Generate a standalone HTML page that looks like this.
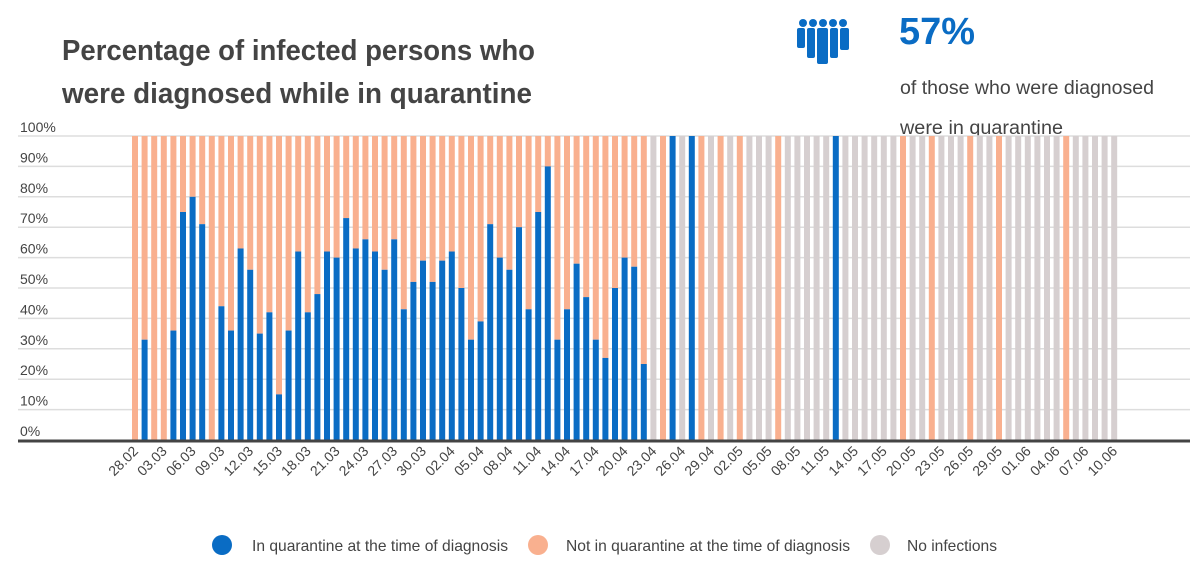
<!DOCTYPE html>
<html><head><meta charset="utf-8"><style>
body{margin:0;background:#fff;}
svg{display:block;font-family:"Liberation Sans Narrow","Liberation Sans",sans-serif;}
</style></head><body>
<svg id="chart" width="1200" height="572" viewBox="0 0 1200 572" xmlns="http://www.w3.org/2000/svg">
<text x="62" y="60" font-size="29" font-weight="bold" fill="#444" textLength="473" lengthAdjust="spacingAndGlyphs">Percentage of infected persons who</text>
<text x="62" y="103" font-size="29" font-weight="bold" fill="#444" textLength="470" lengthAdjust="spacingAndGlyphs">were diagnosed while in quarantine</text>
<g fill="#0a6cc4">
<circle cx="803" cy="23" r="4"/><circle cx="813" cy="23" r="4"/><circle cx="823" cy="23" r="4"/><circle cx="833" cy="23" r="4"/><circle cx="843" cy="23" r="4"/>
<rect x="797" y="28" width="8" height="20" rx="2"/><rect x="807" y="28" width="8" height="30" rx="2"/><rect x="817" y="28" width="11" height="36" rx="2"/><rect x="830" y="28" width="8" height="30" rx="2"/><rect x="840" y="28" width="9" height="22" rx="2"/>
</g>
<text x="899" y="44" font-size="38" font-weight="bold" fill="#0a6cc4" textLength="76" lengthAdjust="spacingAndGlyphs">57%</text>
<text x="900" y="94" font-size="19" fill="#444" textLength="254" lengthAdjust="spacingAndGlyphs">of those who were diagnosed</text>
<text x="900" y="134" font-size="19" fill="#444" textLength="163" lengthAdjust="spacingAndGlyphs">were in quarantine</text>
<g id="grid"></g><g id="bars"></g><g id="xlabels"></g>
<g font-size="16" fill="#444">
<circle cx="222" cy="545" r="10" fill="#0a6cc4"/>
<text x="252" y="551" textLength="256" lengthAdjust="spacingAndGlyphs">In quarantine at the time of diagnosis</text>
<circle cx="538" cy="545" r="10" fill="#f9b08f"/>
<text x="566" y="551" textLength="284" lengthAdjust="spacingAndGlyphs">Not in quarantine at the time of diagnosis</text>
<circle cx="880" cy="545" r="10" fill="#d6cfd0"/>
<text x="907" y="551" textLength="90" lengthAdjust="spacingAndGlyphs">No infections</text>
</g>
</svg>
<script>
// share of diagnosed in quarantine (%), null = no infections
const values = [0,33,0,0,36,75,80,71,0,44,36,63,56,35,42,15,36,62,42,48,62,60,73,63,66,62,56,66,43,52,59,52,59,62,50,33,39,71,60,56,70,43,75,90,33,43,58,47,33,27,50,60,57,25,null,0,100,null,100,0,null,0,null,0,null,null,null,0,null,null,null,null,null,100,null,null,null,null,null,null,0,null,null,0,null,null,null,0,null,null,0,null,null,null,null,null,null,0,null,null,null,null,null];
const tickLabels = ["28.02","03.03","06.03","09.03","12.03","15.03","18.03","21.03","24.03","27.03","30.03","02.04","05.04","08.04","11.04","14.04","17.04","20.04","23.04","26.04","29.04","02.05","05.05","08.05","11.05","14.05","17.05","20.05","23.05","26.05","29.05","01.06","04.06","07.06","10.06"];
const yTicks = [0,10,20,30,40,50,60,70,80,90,100];
const tickEvery = 3;

const NS = "http://www.w3.org/2000/svg";
const y0 = 440, y100 = 136, x0 = 135, pitch = 9.6, bw = 6;
const yScale = v => y0 - (y0 - y100) * v / 100;
const xScale = i => x0 + i * pitch;
function mk(tag, attrs, parent){const e=document.createElementNS(NS,tag);for(const k in attrs)e.setAttribute(k,attrs[k]);parent.appendChild(e);return e;}
const grid = document.getElementById('grid'), bars = document.getElementById('bars'), xl = document.getElementById('xlabels');
yTicks.forEach(t => {
  const y = yScale(t);
  if (t > 0) {
    const l = mk('line', {x1:18, x2:1190, y1:y, y2:y, stroke:'#ddd', 'stroke-width':1.5}, grid);
    
    
  }
  const tx = mk('text', {x:20, y:y-4, 'font-size':14, fill:'#444'}, grid);
  tx.textContent = t + '%';
  
  
});
values.forEach((v, i) => {
  const x = xScale(i) - bw / 2;
  if (v === null) {
    const r = mk('rect', {x:x, y:y100, width:bw, height:y0-y100, fill:'#d6cfd0'}, bars);
    
    
    return;
  }
  const yv = yScale(v);
  if (v < 100) {
    const r = mk('rect', {x:x, y:y100, width:bw, height:yv-y100, fill:'#f9b08f'}, bars);
    
    
  }
  if (v > 0) {
    const r = mk('rect', {x:x, y:yv, width:bw, height:y0-yv, fill:'#0a6cc4'}, bars);
    
    
  }
});
const axis = mk('line', {x1:18, x2:1190, y1:y0+1, y2:y0+1, stroke:'#444', 'stroke-width':3}, bars);


tickLabels.forEach((lab, k) => {
  const cx = xScale(k * tickEvery) + 4, cy = 452;
  const t = mk('text', {x:cx, y:cy, 'font-size':14, fill:'#444', 'text-anchor':'end', transform:'rotate(-45 '+cx+' '+cy+')'}, xl);
  t.textContent = lab;
  
  
});
</script>
</body></html>
